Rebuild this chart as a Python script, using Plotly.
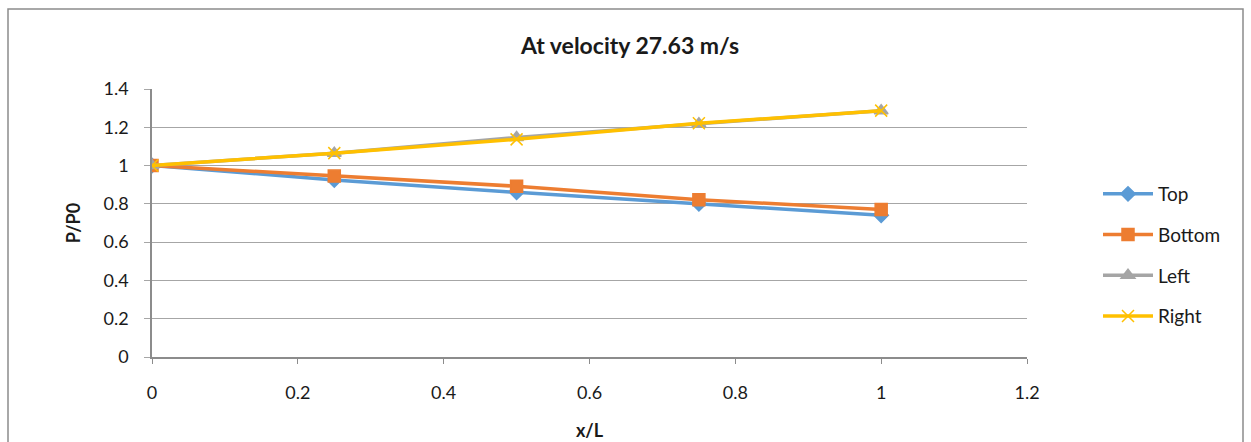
import plotly.graph_objects as go

x_vals = [0, 0.25, 0.5, 0.75, 1]
top = [1.0, 0.925, 0.86, 0.80, 0.74]
bottom = [1.0, 0.945, 0.892, 0.822, 0.770]
left = [1.0, 1.065, 1.147, 1.219, 1.286]
right = [1.0, 1.065, 1.137, 1.221, 1.287]

series = [
    ("Top", top, "#5B9BD5", "diamond", 11),
    ("Bottom", bottom, "#ED7D31", "square", 12),
    ("Left", left, "#A5A5A5", "triangle-up", 12),
    ("Right", right, "#FFC000", "x-thin-open", 12),
]

FONT = "Lato, 'Open Sans', sans-serif"
fig = go.Figure()
for i, (name, ys, color, sym, size) in enumerate(series):
    fig.add_trace(go.Scatter(
        x=x_vals, y=ys, name=name, mode="lines+markers",
        legendgroup=str(i),
        line=dict(color=color, width=3.5),
        marker=dict(symbol=sym, size=size, color=color,
                    line=dict(color=color, width=1.5)),
    ))

W, H = 1251, 442
ml, mr, mt, mb = 152, 224, 89, 85
pw, ph = W - ml - mr, H - mt - mb

fig.update_layout(
    width=W, height=H,
    margin=dict(l=ml, r=mr, t=mt, b=mb, autoexpand=False),
    paper_bgcolor="white", plot_bgcolor="white",
    font=dict(family=FONT, size=18, color="#1a1a1a"),
    title=dict(text="<b>At velocity 27.63 m/s</b>", x=(630 - ml) / pw, xref="paper",
               xanchor="center", y=1 - 46 / H, yanchor="middle",
               font=dict(size=23, family=FONT, color="#1a1a1a")),
    legend=dict(x=(1098 - ml) / pw, y=(357 - 175) / ph, xanchor="left", yanchor="top",
                font=dict(size=19, family=FONT), tracegroupgap=13,
                bgcolor="rgba(0,0,0,0)", itemwidth=50),
    showlegend=True,
    xaxis=dict(range=[0, 1.2], dtick=0.2, showgrid=False, zeroline=False,
               showline=True, linecolor="#8c8c8c", linewidth=1.5,
               ticks="outside", ticklen=5, tickcolor="#8c8c8c", automargin=False,
               tickfont=dict(size=18), ticklabelstandoff=14,
               title=dict(text="<b>x/L</b>", font=dict(size=18), standoff=22)),
    yaxis=dict(range=[0, 1.4], dtick=0.2, showgrid=True, gridcolor="#a6a6a6",
               gridwidth=1, zeroline=False, showline=True, linecolor="#8c8c8c",
               linewidth=1.5, ticks="outside", ticklen=6, tickcolor="#a6a6a6",
               automargin=False,
               tickfont=dict(size=18), ticklabelstandoff=12,
               title=dict(text="<b>P/P0</b>", font=dict(size=18), standoff=18)),
)

fig.add_shape(type="rect", xref="paper", yref="paper",
              x0=(8 - ml) / pw, x1=(1243 - ml) / pw,
              y0=(H - mb - 460) / ph, y1=(H - mb - 9) / ph,
              line=dict(color="#8c8c8c", width=1.5), layer="below")

fig.write_html("out.html")
